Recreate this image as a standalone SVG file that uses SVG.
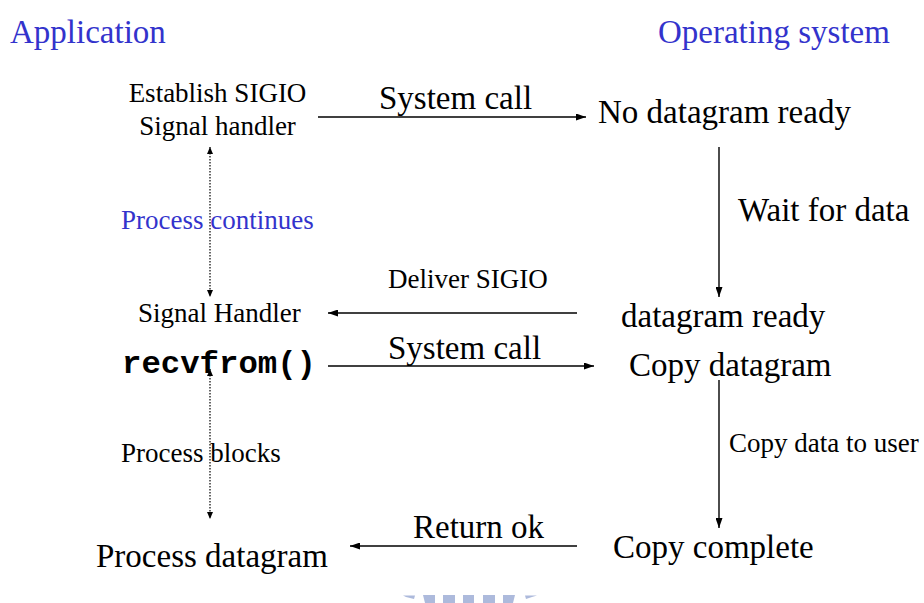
<svg xmlns="http://www.w3.org/2000/svg" width="924" height="603" viewBox="0 0 924 603">
  <style>
    .t { font-family: "Liberation Serif", "Times New Roman", serif; fill: #000; }
    .big { font-size: 33px; }
    .small { font-size: 27px; }
    .blue { fill: #3333cc; }
    .code { font-family: "Liberation Mono", "Courier New", monospace; font-weight: bold; font-size: 32px; fill: #000; }
    .arrow { stroke: #000; stroke-width: 1.4; fill: none; }
    .dotted { stroke: #000; stroke-width: 1.2; stroke-dasharray: 1.5 1.5; fill: none; }
  </style>
  <defs>
    <marker id="head" viewBox="0 0 10 7" refX="10" refY="3.5" markerWidth="10" markerHeight="7" markerUnits="userSpaceOnUse" orient="auto-start-reverse">
      <path d="M0,0 L10,3.5 L0,7 Z" fill="#000"/>
    </marker>
    <marker id="dothead" viewBox="0 0 7 6" refX="7" refY="3" markerWidth="7" markerHeight="6" markerUnits="userSpaceOnUse" orient="auto-start-reverse">
      <path d="M0,0 L7,3 L0,6 Z" fill="#000"/>
    </marker>
  </defs>
  <rect width="924" height="603" fill="#fff"/>

  <!-- column headings -->
  <g id="heading-app"><text class="t big blue" x="10" y="43">Application</text></g>
  <g id="heading-os"><text class="t big blue" x="658" y="43">Operating system</text></g>

  <!-- application side -->
  <g id="establish">
    <text class="t small" x="217.5" y="102" text-anchor="middle">Establish SIGIO</text>
    <text class="t small" x="217.5" y="135" text-anchor="middle">Signal handler</text>
  </g>
  <g id="process-continues"><text class="t small blue" x="121" y="229">Process continues</text></g>
  <g id="signal-handler"><text class="t small" x="138" y="322">Signal Handler</text></g>
  <g id="recvfrom"><text class="code" x="122" y="373" textLength="194" lengthAdjust="spacingAndGlyphs">recvfrom()</text></g>
  <g id="process-blocks"><text class="t small" x="121" y="462">Process blocks</text></g>
  <g id="process-datagram"><text class="t big" x="96" y="567">Process datagram</text></g>

  <!-- kernel side -->
  <g id="no-datagram"><text class="t big" x="598" y="123">No datagram ready</text></g>
  <g id="datagram-ready"><text class="t big" x="621" y="327">datagram ready</text></g>
  <g id="copy-datagram"><text class="t big" x="629" y="376">Copy datagram</text></g>
  <g id="copy-complete"><text class="t big" x="613" y="558">Copy complete</text></g>

  <!-- connectors and their labels -->
  <g id="connectors">
    <line class="arrow" x1="318" y1="117" x2="586" y2="117" marker-end="url(#head)"/>
    <text class="t big" x="379" y="109">System call</text>

    <line class="arrow" x1="719" y1="147" x2="719" y2="297" marker-end="url(#head)"/>
    <text class="t big" x="738" y="221">Wait for data</text>

    <line class="arrow" x1="577" y1="313" x2="328" y2="313" marker-end="url(#head)"/>
    <text class="t small" x="388" y="288">Deliver SIGIO</text>

    <line class="arrow" x1="328" y1="366" x2="594" y2="366" marker-end="url(#head)"/>
    <text class="t big" x="388" y="359">System call</text>

    <line class="arrow" x1="719" y1="380" x2="719" y2="528" marker-end="url(#head)"/>
    <text class="t small" x="729" y="452">Copy data to user</text>

    <line class="arrow" x1="577" y1="546" x2="350" y2="546" marker-end="url(#head)"/>
    <text class="t big" x="413" y="538">Return ok</text>

    <line class="dotted" x1="210" y1="147" x2="210" y2="297" marker-start="url(#dothead)" marker-end="url(#dothead)"/>
    <line class="dotted" x1="210" y1="369" x2="210" y2="519" marker-start="url(#dothead)" marker-end="url(#dothead)"/>
  </g>

  <!-- partial dashed ring at the bottom edge -->
  <g id="footer-ring" fill="#adbadc">
    <polygon points="403,595.5 415,595.5 414,599 406,597"/>
    <polygon points="423,595 435,595 435,603 425,603"/>
    <rect x="443" y="595" width="12" height="8"/>
    <rect x="463" y="595" width="11" height="8"/>
    <rect x="483" y="595" width="12" height="8"/>
    <polygon points="503,595 515,595 513,603 503,603"/>
    <polygon points="525,595.5 537,595.5 532,597 526,599"/>
  </g>
</svg>
